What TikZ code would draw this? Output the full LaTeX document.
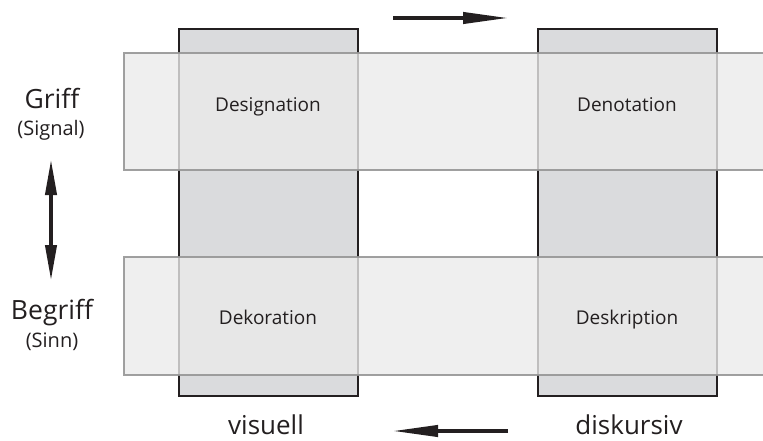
\documentclass[tikz,border=0pt]{standalone}
\usepackage{fontspec}
\setmainfont{Open Sans}
\usetikzlibrary{arrows.meta}
\definecolor{colfill}{RGB}{218,219,221}
\definecolor{colline}{RGB}{35,31,32}
\definecolor{bandfill}{RGB}{235,235,235}
\definecolor{bandline}{RGB}{150,150,150}
\definecolor{txt}{RGB}{35,31,32}
\tikzset{
  column/.style={fill=colfill, draw=colline, line width=2pt},
  band/.style={fill=bandfill, fill opacity=0.78, draw=bandline, draw opacity=0.9, line width=1.2pt},
  celltext/.style={text=txt, font=\fontsize{19}{23}\selectfont, inner sep=0pt, anchor=base},
  bigtext/.style={text=txt, font=\fontsize{26.5}{31}\selectfont, inner sep=0pt, anchor=base},
  bottext/.style={text=txt, font=\fontsize{26}{31}\selectfont, inner sep=0pt, anchor=base},
  smalltext/.style={text=txt, font=\fontsize{20}{24}\selectfont, inner sep=0pt, anchor=base},
  bigarrow/.style={line width=4pt, draw=colline, -{Triangle[length=46pt,width=11pt]}},
  dblarrow/.style={line width=4pt, draw=colline, {Triangle[length=36pt,width=11pt]}-{Triangle[length=36pt,width=11pt]}}
}
\begin{document}
\begin{tikzpicture}[x=1pt,y=-1pt]
\useasboundingbox (0,0) rectangle (763,441);
% columns
\draw[column] (179,29) rectangle (358,396);
\draw[column] (538,29) rectangle (717,396);
% bands
\draw[band] (124,53) rectangle (775,170);
\draw[band] (124,257) rectangle (775,375);
% cell labels
\node[celltext] (des) at (268,112) {Designation};
\node[celltext] (den) at (627,112) {Denotation};
\node[celltext] (dek) at (268,324) {Dekoration};
\node[celltext] (desk) at (627,324) {Deskription};
% left labels
\node[bigtext] (griff) at (52,109) {Griff};
\node[smalltext] (signal) at (51,136) {(Signal)};
\node[bigtext] (begriff) at (52,319) {Begriff};
\node[smalltext] (sinn) at (52,347) {(Sinn)};
% bottom labels
\node[bottext] (vis) at (266,434) {visuell};
\node[bottext] (disk) at (629,434) {diskursiv};
% arrows
\coordinate (ta) at (393,18);
\coordinate (tb) at (509,18);
\draw[bigarrow] (ta) -- (tb);
\coordinate (ba) at (508,431);
\coordinate (bb) at (392,431);
\draw[bigarrow] (ba) -- (bb);
\coordinate (va) at (51,159);
\coordinate (vb) at (51,281);
\draw[dblarrow] (va) -- (vb);
\end{tikzpicture}
\end{document}
